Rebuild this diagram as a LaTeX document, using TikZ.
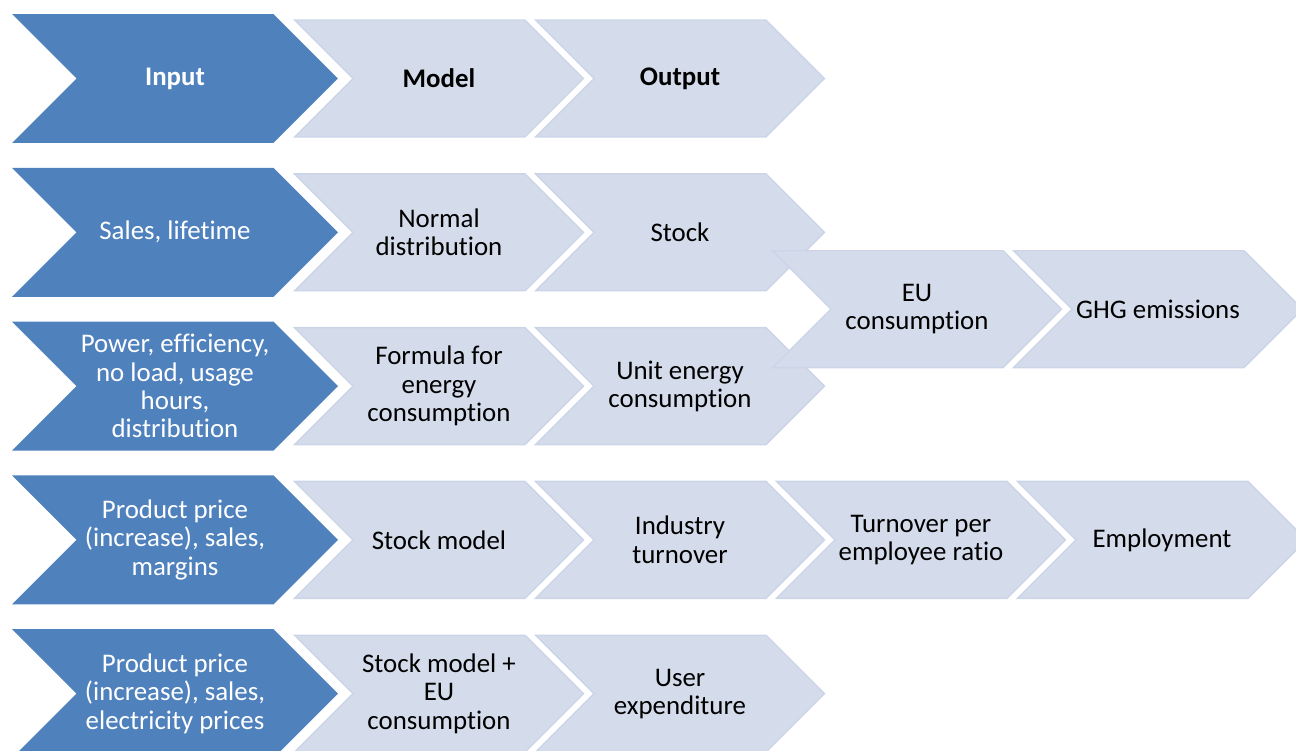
\documentclass[tikz,border=0pt]{standalone}
\usepackage{fontspec}
\setmainfont{Carlito}[Ligatures=NoCommon]
\usetikzlibrary{shapes.symbols}

\definecolor{darkblue}{HTML}{4F81BD}
\definecolor{paleblue}{HTML}{D4DCEB}
\definecolor{paleedge}{HTML}{CCD5E8}

\begin{document}
\begin{tikzpicture}[x=0.02cm,y=-0.02cm,
    chev/.style={shape=signal,signal to=east,signal from=west,signal pointer angle=90,
      inner sep=0pt,outer sep=0pt,align=center,font=\fontsize{15.3}{16.1}\selectfont},
    inp/.style={chev,fill=darkblue,text=white,minimum width=6.52cm,minimum height=2.58cm},
    stp/.style={chev,fill=paleblue,draw=paleedge,line width=0.8pt,text=black,
      minimum width=5.78cm,minimum height=2.34cm}]
  \useasboundingbox (0,0) rectangle (1296,751);
  % headings
  \node[inp] (hin) at (175,78.5) {\textbf{Input}};
  \node[stp] (hmod) at (439,78.5) {\textbf{Model}};
  \node[stp] (hout) at (680,78.5) {\textbf{Output}};
  % stock
  \node[inp] (sales) at (175,232.3) {Sales, lifetime};
  \node[stp] (normal) at (439,232.3) {Normal\\distribution};
  \node[stp] (stock) at (680,232.3) {Stock};
  % unit energy
  \node[inp] (power) at (175,386.1) {Power, efficiency,\\no load, usage\\hours,\\distribution};
  \node[stp] (formula) at (439,386.1) {Formula for\\energy\\consumption};
  \node[stp] (unit) at (680,386.1) {Unit energy\\consumption};
  % EU totals, on top of stock and unit energy
  \node[stp] (eu) at (917,309.2) {EU\\consumption};
  \node[stp] (ghg) at (1158,309.2) {GHG emissions};
  % jobs
  \node[inp] (price) at (175,539.9) {Product price\\(increase), sales,\\margins};
  \node[stp] (stockm) at (439,539.9) {Stock model};
  \node[stp] (turnover) at (680,539.9) {Industry\\turnover};
  \node[stp] (ratio) at (921,539.9) {Turnover per\\employee ratio};
  \node[stp] (employ) at (1162,539.9) {Employment};
  % user costs
  \node[inp] (pricee) at (175,693.7) {Product price\\(increase), sales,\\electricity prices};
  \node[stp] (stockeu) at (439,693.7) {Stock model +\\EU\\consumption};
  \node[stp] (expend) at (680,693.7) {User\\expenditure};
\end{tikzpicture}
\end{document}
